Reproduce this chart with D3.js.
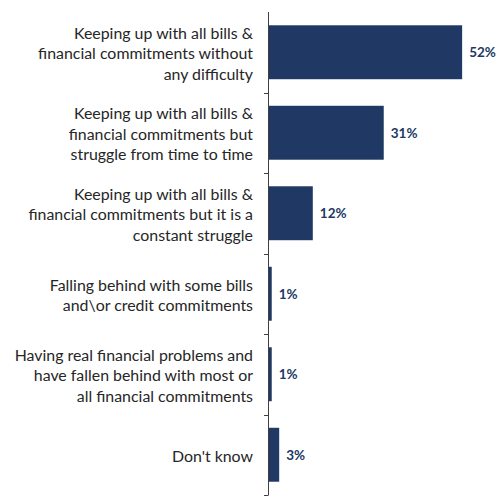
<!DOCTYPE html>
<html>
<head>
<meta charset="utf-8">
<script src="https://cdn.jsdelivr.net/npm/d3@7"></script>
<style>
  html, body { margin: 0; padding: 0; background: #fff; }
  svg { display: block; }
</style>
</head>
<body>
<svg id="chart" width="501" height="500"></svg>
<script>
// Survey responses on keeping up with bills (% of respondents)
const categories = [
  ["Keeping up with all bills &", "financial commitments without", "any difficulty"],
  ["Keeping up with all bills &", "financial commitments but", "struggle from time to time"],
  ["Keeping up with all bills &", "financial commitments but it is a", "constant struggle"],
  ["Falling behind with some bills", "and\\or credit commitments"],
  ["Having real financial problems and", "have fallen behind with most or", "all financial commitments"],
  ["Don't know"]
];
const values = [52, 31, 12, 1, 1, 3];
const valueLabels = ["52%", "31%", "12%", "1%", "1%", "3%"];

const svg = d3.select("#chart");
const axisX = 268, plotTop = 12, plotBottom = 495;
const barColor = "#203864";

const y = d3.scaleBand()
  .domain(d3.range(categories.length))
  .range([plotTop, plotBottom])
  .paddingInner(0.33)
  .paddingOuter(0.165);

const x = d3.scaleLinear().domain([0, 60]).range([axisX, axisX + 224]);

// Bars
svg.append("g").selectAll("rect")
  .data(values)
  .join("rect")
  .attr("x", x(0))
  .attr("y", (d, i) => y(i))
  .attr("width", d => x(d) - x(0))
  .attr("height", y.bandwidth())
  .attr("fill", barColor);

// Category axis: vertical line with ticks between categories
const axis = svg.append("g");
axis.append("line")
  .attr("x1", axisX + 0.5).attr("x2", axisX + 0.5)
  .attr("y1", plotTop).attr("y2", plotBottom)
  .attr("stroke", "#404040").attr("stroke-width", 1);
const tickYs = d3.range(1, categories.length + 1)
  .map(k => plotTop + k * (plotBottom - plotTop) / categories.length);
axis.selectAll("line.tick")
  .data(tickYs)
  .join("line")
  .attr("class", "tick")
  .attr("x1", axisX - 4).attr("x2", axisX + 0.5)
  .attr("y1", d => Math.round(d) + 0.5).attr("y2", d => Math.round(d) + 0.5)
  .attr("stroke", "#404040").attr("stroke-width", 1);

// Category labels, multi-line, right-aligned and vertically centred on each bar
const lineH = 20.5;
const labels = svg.append("g")
  .attr("font-family", "Lato, 'Open Sans', sans-serif")
  .attr("font-size", 15.9)
  .attr("fill", "#262626")
  .attr("text-anchor", "end");
categories.forEach((lines, i) => {
  const cy = y(i) + y.bandwidth() / 2;
  const t = labels.append("text")
    .attr("x", 253)
    .attr("y", cy - (lines.length - 1) * lineH / 2)
    .attr("dominant-baseline", "central");
  lines.forEach((ln, j) => {
    t.append("tspan")
      .attr("x", 253)
      .attr("dy", j === 0 ? 0 : lineH)
      .text(ln);
  });
});

// Value labels
svg.append("g")
  .attr("font-family", "Lato, 'Open Sans', sans-serif")
  .attr("font-size", 13.5)
  .attr("font-weight", "bold")
  .attr("fill", barColor)
  .selectAll("text")
  .data(values)
  .join("text")
  .attr("x", d => x(d) + 7)
  .attr("y", (d, i) => y(i) + y.bandwidth() / 2)
  .attr("dominant-baseline", "central")
  .text((d, i) => valueLabels[i]);
</script>
</body>
</html>
